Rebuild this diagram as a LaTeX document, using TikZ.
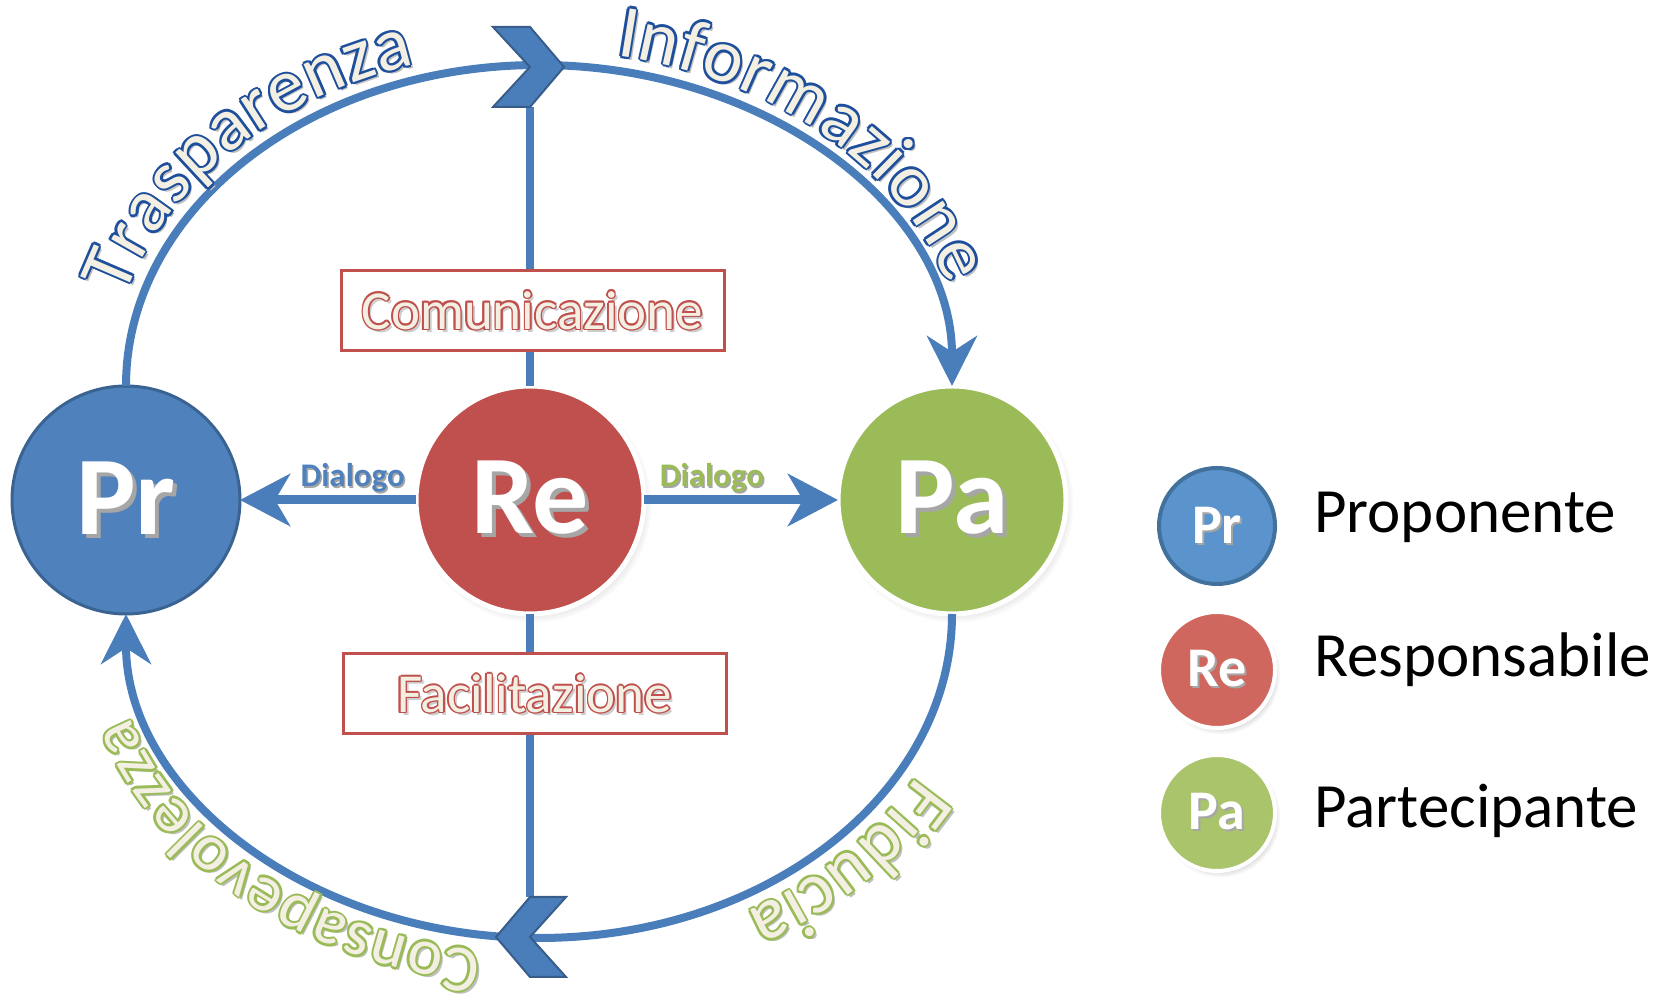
\documentclass[tikz,border=0pt]{standalone}
\usepackage{fontspec}
\setmainfont{Carlito}
\usetikzlibrary{arrows.meta,decorations.text,shadows,positioning}

\definecolor{loopblue}{HTML}{4A7EBB}
\definecolor{chevedge}{HTML}{385D8A}
\definecolor{prblue}{HTML}{4F81BD}
\definecolor{prdark}{HTML}{3A6392}
\definecolor{rered}{HTML}{C0504D}
\definecolor{pagreen}{HTML}{9BBB59}
\definecolor{legblue}{HTML}{5B93CC}
\definecolor{legbluedark}{HTML}{41719C}
\definecolor{legred}{HTML}{D0675F}
\definecolor{leggreen}{HTML}{A9C46B}
\definecolor{cream}{HTML}{F3F0E3}
\definecolor{inkblue}{HTML}{1E4F9C}

\newcommand\withshadow[2]{\rlap{\kern#1\raisebox{-#1}{\textcolor{black!35}{#2}}}#2}
\newcommand\outlined[3]{%
  \rlap{\kern3pt\raisebox{-3pt}{\textcolor{black!20}{#3}}}%
  \rlap{\kern-1.6pt\textcolor{#1}{#3}}\rlap{\kern1.6pt\textcolor{#1}{#3}}%
  \rlap{\raisebox{1.6pt}{\textcolor{#1}{#3}}}\rlap{\raisebox{-1.6pt}{\textcolor{#1}{#3}}}%
  \rlap{\kern-1.1pt\raisebox{1.1pt}{\textcolor{#1}{#3}}}\rlap{\kern1.1pt\raisebox{1.1pt}{\textcolor{#1}{#3}}}%
  \rlap{\kern-1.1pt\raisebox{-1.1pt}{\textcolor{#1}{#3}}}\rlap{\kern1.1pt\raisebox{-1.1pt}{\textcolor{#1}{#3}}}%
  \textcolor{#2}{#3}}
% one word along the loop: options, centre, shift, from, to, y radius
\newcommand\wordring[6]{%
  \path[#1] ([shift={(#4:413 and #6)}, shift={(#3)}]#2) arc[start angle=#4, end angle=#5, x radius=413, y radius=#6];}
% outline colour, word, size, centre, from, to, y radius
\newcommand\ringpasses[7]{%
  \wordring{ringword={black!25}{#2}{#3}}{#4}{3,-3}{#5}{#6}{#7}
  \foreach \o in {{2.4,0},{-2.4,0},{0,2.4},{0,-2.4},{1.7,1.7},{-1.7,1.7},{1.7,-1.7},{-1.7,-1.7}}
    {\wordring{ringword={#1}{#2}{#3}}{#4}{\o}{#5}{#6}{#7}}
  \wordring{ringword={cream}{#2}{#3}}{#4}{0,0}{#5}{#6}{#7}}

\begin{document}
\begin{tikzpicture}[x=1pt, y=1pt,
  actor/.style={circle, minimum size=228pt, inner sep=0pt, outer sep=0pt, text=white,
    font=\fontsize{112}{120}\selectfont\bfseries},
  legdot/.style={circle, minimum size=116pt, inner sep=0pt, outer sep=0pt, text=white,
    font=\fontsize{56}{60}\selectfont\bfseries},
  legword/.style={anchor=base west, inner sep=0pt, font=\fontsize{63}{70}\selectfont},
  wordbox/.style={rectangle, draw=rered, line width=3pt, fill=white, minimum width=383pt,
    minimum height=80pt, inner sep=0pt, font=\fontsize{55}{60}\selectfont},
  soft/.style={circular drop shadow={shadow scale=1.04, shadow xshift=3pt, shadow yshift=-4pt, opacity=.35}},
  loopline/.style={draw=loopblue, line width=8pt},
  spoke/.style={draw=loopblue, line width=8pt},
  talk/.style={draw=loopblue, line width=9pt, -{Stealth[length=50pt, width=52pt, inset=15pt]}},
  chev/.style={fill=loopblue, draw=chevedge, line width=2pt, line join=miter},
  ringword/.style n args={3}{decorate, decoration={text along path, text align=center, raise=17pt,
    text={|\fontsize{#3}{#3}\selectfont\color{#1}|#2}}},
  dialog/.style={anchor=base, yshift=13pt, inner sep=0pt, font=\fontsize{33}{36}\selectfont\bfseries}
]
\useasboundingbox (0,0) rectangle (1669,1008);

% the three actors
\node[actor, fill=prblue, draw=prdark, line width=3pt] (pr) at (126,508) {\withshadow{4pt}{Pr}};
\node[actor, soft, fill=rered, draw=white, line width=5pt] (re) at (530,508) {\withshadow{4pt}{Re}};
\node[actor, soft, fill=pagreen, draw=white, line width=5pt] (pa) at (952,508) {\withshadow{4pt}{Pa}};

\node[wordbox] (comm) at (532.5,697) {\outlined{rered}{cream}{Comunicazione}};
\node[wordbox] (fac) at (534.5,314) {\outlined{rered}{cream}{Facilitazione}};

\coordinate (topchev) at (530,941);
\coordinate (botchev) at (530,71);
\coordinate (ctop) at (539,620);
\coordinate (cbot) at (539,395);

% the loop
\draw[loopline, -{Stealth[length=50pt, width=50pt, inset=16pt]}] (pr.north)
  arc[start angle=180, end angle=0, x radius=413, y radius=321];
\draw[loopline, -{Stealth[length=50pt, width=50pt, inset=16pt]}] (pa.south)
  arc[start angle=0, end angle=-180, x radius=413, y radius=324];

\draw[spoke] (re.north) -- (re.north |- comm.south);
\draw[spoke] (re.north |- comm.north) -- ([yshift=-40pt]topchev);
\draw[spoke] (re.south) -- (re.south |- fac.north);
\draw[spoke] (re.south |- fac.south) -- ([yshift=40pt]botchev);

\draw[chev] (topchev) -- ++(-37,40) -- ++(37,0) -- ++(34,-40) -- ++(-34,-40) -- ++(-37,0) -- cycle;
\draw[chev] (botchev) -- ++(36,40) -- ++(-36,0) -- ++(-34,-40) -- ++(34,-40) -- ++(36,0) -- cycle;

\draw[talk] (re.west) -- (pr.east) node[dialog, pos=.36, text=prblue] {\withshadow{1.5pt}{Dialogo}};
\draw[talk] (re.east) -- (pa.west) node[dialog, pos=.35, text=pagreen] {\withshadow{1.5pt}{Dialogo}};

% words round the loop
\ringpasses{inkblue}{Trasparenza}{75}{ctop}{172}{101}{321}
\ringpasses{inkblue}{Informazione}{75}{ctop}{87}{8}{321}
\ringpasses{pagreen}{Fiducia}{74}{cbot}{-20}{-68}{324}
\ringpasses{pagreen}{Consapevolezza}{66}{cbot}{-91}{-171}{324}

% legend
\node[legdot, fill=legblue, draw=legbluedark, line width=4pt] (legpr) at (1217,482) {\withshadow{2pt}{Pr}};
\node[legdot, soft, fill=legred, draw=white, line width=4pt] (legre) at (1217,338) {\withshadow{2pt}{Re}};
\node[legdot, soft, fill=leggreen, draw=white, line width=4pt] (legpa) at (1217,195) {\withshadow{2pt}{Pa}};
\node[legword] (legprt) at (1314,475) {Proponente};
\node[legword] (legret) at (1314,331) {Responsabile};
\node[legword] (legpat) at (1314,180) {Partecipante};
\end{tikzpicture}
\end{document}
